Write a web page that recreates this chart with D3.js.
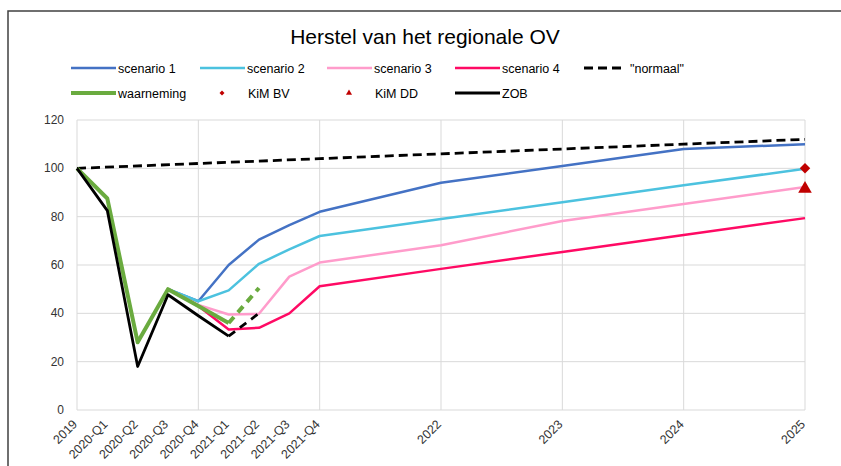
<!DOCTYPE html>
<html>
<head>
<meta charset="utf-8">
<script src="https://cdn.jsdelivr.net/npm/d3@7"></script>
<style>
  body { margin: 0; background: #fff; }
  text { font-family: "Liberation Sans", Arial, sans-serif; }
</style>
</head>
<body>
<script>
// x positions are in quarters since 2019
const tickPos    = [0, 1, 2, 3, 4, 5, 6, 7, 8, 12, 16, 20, 24];
const tickLabels = ['2019', '2020-Q1', '2020-Q2', '2020-Q3', '2020-Q4', '2021-Q1', '2021-Q2',
                    '2021-Q3', '2021-Q4', '2022', '2023', '2024', '2025'];
const yTicks = [0, 20, 40, 60, 80, 100, 120];

const scenPos  = [3, 4, 5, 6, 7, 8, 12, 16, 20, 24];
const scenario1 = [50, 45, 60, 70.5, 76.5, 82, 94, 101, 108, 110];
const scenario2 = [50, 45, 49.5, 60.5, 66.5, 72, 79, 86, 93, 99.8];
const scenario3 = [50, 43.5, 39.5, 39.8, 55.2, 61, 68.2, 78.2, 85.2, 92.3];
const scenario4 = [50, 43, 33.3, 34, 40, 51.2, 58.4, 65.4, 72.4, 79.4];

const normaalPos = [0, 4, 8, 12, 16, 20, 24];
const normaal    = [100, 102, 104, 106, 108, 110, 112];

const obsPos     = [0, 1, 2, 3, 4, 5];
const waarneming = [100, 87.5, 28, 50, 43, 36];
const zob        = [100, 82.5, 18, 47.7, 39, 30.6];
const prognosePos = [5, 6];
const waarnemingPrognose = [36, 50.5];
const zobPrognose        = [30.6, 40];

const kimBV = [{ q: 24, v: 100 }];
const kimDD = [{ q: 24, v: 91.5 }];

const W = 841, H = 466;
const svg = d3.select('body').append('svg').attr('width', W).attr('height', H);

// outer frame
svg.append('rect')
  .attr('x', 8).attr('y', 11).attr('width', 900).attr('height', 500)
  .attr('fill', 'none').attr('stroke', '#404040').attr('stroke-width', 1.5);

const x = d3.scaleLinear().domain([0, 24]).range([77, 805]);
const y = d3.scaleLinear().domain([0, 120]).range([410, 120]);

// grid
svg.append('g').selectAll('line').data(yTicks).join('line')
  .attr('x1', x(0)).attr('x2', x(24))
  .attr('y1', d => y(d)).attr('y2', d => y(d))
  .attr('stroke', '#d9d9d9').attr('stroke-width', 1);
svg.append('g').selectAll('line').data([0, 4, 8, 12, 16, 20, 24]).join('line')
  .attr('x1', d => x(d)).attr('x2', d => x(d))
  .attr('y1', y(0)).attr('y2', y(120))
  .attr('stroke', '#d9d9d9').attr('stroke-width', 1);

// y axis labels
svg.append('g').selectAll('text').data(yTicks).join('text')
  .attr('x', 64).attr('y', d => y(d) + 4)
  .attr('text-anchor', 'end')
  .style('font-size', '12px').attr('fill', '#333')
  .text(d => d);

// x axis labels
svg.append('g').selectAll('text').data(tickPos).join('text')
  .attr('text-anchor', 'end')
  .attr('transform', d => `translate(${x(d) + 1},${y(0) + 15}) rotate(-45)`)
  .style('font-size', '12.5px').attr('fill', '#333')
  .text((d, i) => tickLabels[i]);

const line = d3.line().x(d => x(d[0])).y(d => y(d[1]));
const zipPts = (xs, vs) => xs.map((q, i) => [q, vs[i]]);

function drawLine(xs, vs, color, width, dash) {
  svg.append('path')
    .attr('d', line(zipPts(xs, vs)))
    .attr('fill', 'none')
    .attr('stroke', color)
    .attr('stroke-width', width)
    .attr('stroke-linejoin', 'round')
    .attr('stroke-dasharray', dash || null);
}

drawLine(scenPos, scenario1, '#4472c4', 2.5);
drawLine(scenPos, scenario2, '#4cc2df', 2.5);
drawLine(scenPos, scenario3, '#ff9ccb', 2.5);
drawLine(scenPos, scenario4, '#ff0a64', 2.5);
drawLine(normaalPos, normaal, '#000', 2.8, '9,5');
drawLine(obsPos, waarneming, '#6aab3f', 4);
drawLine(prognosePos, waarnemingPrognose, '#6aab3f', 4, '8,6');
drawLine(obsPos, zob, '#000', 2.8);
drawLine(prognosePos, zobPrognose, '#000', 2.8, '8,6');

svg.selectAll('.bv').data(kimBV).join('path')
  .attr('transform', d => `translate(${x(d.q)},${y(d.v)})`)
  .attr('d', d3.symbol(d3.symbolDiamond2, 70))
  .attr('fill', '#c00000');
svg.selectAll('.dd').data(kimDD).join('path')
  .attr('transform', d => `translate(${x(d.q)},${y(d.v)})`)
  .attr('d', d3.symbol(d3.symbolTriangle, 80))
  .attr('fill', '#c00000');

// title
svg.append('text')
  .attr('x', 425).attr('y', 44)
  .attr('text-anchor', 'middle')
  .style('font-size', '21px').attr('fill', '#000')
  .text('Herstel van het regionale OV');

// legend
const legend = svg.append('g').style('font-size', '12.5px');
const legItems = [
  { label: 'scenario 1', color: '#4472c4', w: 2.5, lx: 71, ly: 68, type: 'line' },
  { label: 'scenario 2', color: '#4cc2df', w: 2.5, lx: 200, ly: 68, type: 'line' },
  { label: 'scenario 3', color: '#ff9ccb', w: 2.5, lx: 327, ly: 68, type: 'line' },
  { label: 'scenario 4', color: '#ff0a64', w: 2.5, lx: 455, ly: 68, type: 'line' },
  { label: '"normaal"', color: '#000', w: 2.8, lx: 584, ly: 68, type: 'dash' },
  { label: 'waarneming', color: '#6aab3f', w: 4, lx: 71, ly: 93, type: 'line' },
  { label: 'KiM BV', color: '#c00000', lx: 200, ly: 93, type: 'diamond' },
  { label: 'KiM DD', color: '#c00000', lx: 327, ly: 93, type: 'triangle' },
  { label: 'ZOB', color: '#000', w: 2.8, lx: 455, ly: 93, type: 'line' }
];
legItems.forEach(it => {
  if (it.type === 'line' || it.type === 'dash') {
    legend.append('line')
      .attr('x1', it.lx).attr('x2', it.lx + (it.type === 'dash' ? 38 : 45))
      .attr('y1', it.ly).attr('y2', it.ly)
      .attr('stroke', it.color).attr('stroke-width', it.w)
      .attr('stroke-dasharray', it.type === 'dash' ? '9,5' : null);
  } else {
    legend.append('path')
      .attr('transform', `translate(${it.lx + 22},${it.ly})`)
      .attr('d', d3.symbol(it.type === 'diamond' ? d3.symbolDiamond2 : d3.symbolTriangle, 16))
      .attr('fill', it.color);
  }
  const tx = it.type === 'dash' ? it.lx + 46 : it.lx + 47;
  legend.append('text')
    .attr('x', it.type === 'diamond' || it.type === 'triangle' ? it.lx + 48 : tx)
    .attr('y', it.ly + 4.5)
    .attr('fill', '#000')
    .text(it.label);
});
</script>
</body>
</html>
